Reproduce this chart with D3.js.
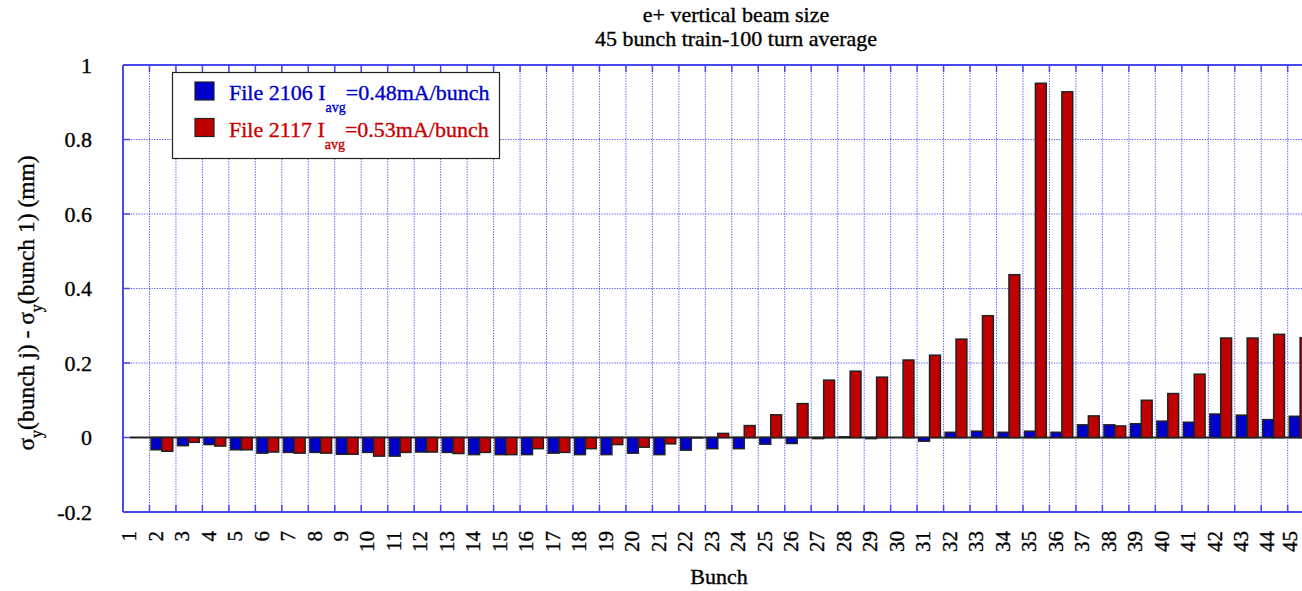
<!DOCTYPE html>
<html>
<head>
<meta charset="utf-8">
<script src="https://cdn.jsdelivr.net/npm/d3@7/dist/d3.min.js"></script>
<style>
  html, body { margin: 0; padding: 0; background: #fff; overflow: hidden; }
</style>
</head>
<body>
<svg id="chart" width="1302" height="591" font-family="'Liberation Serif', 'Times New Roman', Times, 'DejaVu Serif', serif"></svg>
<script>
const bunches = ["1","2","3","4","5","6","7","8","9","10","11","12","13","14","15","16","17","18","19","20","21","22","23","24","25","26","27","28","29","30","31","32","33","34","35","36","37","38","39","40","41","42","43","44","45"];
const file2106 = [0, -0.033, -0.022, -0.019, -0.033, -0.042, -0.040, -0.040, -0.045, -0.040,
  -0.050, -0.039, -0.040, -0.046, -0.046, -0.046, -0.042, -0.046, -0.046, -0.042,
  -0.046, -0.034, -0.030, -0.030, -0.018, -0.016, -0.003, 0.002, -0.003, 0.000,
  -0.010, 0.014, 0.017, 0.014, 0.017, 0.014, 0.034, 0.034, 0.037, 0.044,
  0.041, 0.063, 0.060, 0.048, 0.057];
const file2117 = [0, -0.037, -0.013, -0.023, -0.033, -0.039, -0.042, -0.042, -0.045, -0.050,
  -0.040, -0.039, -0.043, -0.040, -0.046, -0.030, -0.040, -0.030, -0.019, -0.026,
  -0.017, -0.001, 0.011, 0.032, 0.061, 0.091, 0.154, 0.178, 0.162, 0.208,
  0.221, 0.264, 0.327, 0.437, 0.951, 0.928, 0.058, 0.031, 0.100, 0.118,
  0.170, 0.267, 0.267, 0.277, 0.268];
const yTicks = [-0.2, 0, 0.2, 0.4, 0.6, 0.8, 1];
const yTickLabels = ["-0.2", "0", "0.2", "0.4", "0.6", "0.8", "1"];
const titleLines = ["e+ vertical beam size", "45 bunch train-100 turn average"];
const seriesNames = [
  {pre: "File 2106 I", sub: "avg", post: "=0.48mA/bunch"},
  {pre: "File 2117 I", sub: "avg", post: "=0.53mA/bunch"}
];

const BLUE = "#0000cc", RED = "#c00000", FRAME = "#4848ee", GRID = "#3a3aff";
const svg = d3.select("#chart");
const pL = 123, pT = 65, pB = 512, pR = 123 + 45 * 26.47;

const x = d3.scaleBand().domain(bunches).range([pL, pR]).padding(0);
const y = d3.scaleLinear().domain([-0.2, 1]).range([pB, pT]);
const bw = x.bandwidth();

// grid
const g = svg.append("g");
g.selectAll("line.vg").data(bunches.slice(1)).join("line")
  .attr("x1", d => x(d)).attr("x2", d => x(d))
  .attr("y1", pT).attr("y2", pB)
  .attr("stroke", GRID).attr("stroke-width", 1).attr("stroke-dasharray", "1.3,1.3").attr("opacity", 0.85);
g.selectAll("line.hg").data(yTicks.filter(v => v > 0 && v < 1)).join("line")
  .attr("x1", pL).attr("x2", 1302)
  .attr("y1", d => y(d)).attr("y2", d => y(d))
  .attr("stroke", GRID).attr("stroke-width", 1).attr("stroke-dasharray", "1.3,1.3").attr("opacity", 0.85);

// frame + ticks
svg.append("line").attr("x1", pL).attr("x2", 1302).attr("y1", pT).attr("y2", pT).attr("stroke", FRAME).attr("stroke-width", 2);
svg.append("line").attr("x1", pL).attr("x2", 1302).attr("y1", pB).attr("y2", pB).attr("stroke", FRAME).attr("stroke-width", 2);
svg.append("line").attr("x1", pL).attr("x2", pL).attr("y1", pT).attr("y2", pB).attr("stroke", FRAME).attr("stroke-width", 2);
svg.append("g").selectAll("line").data(bunches.slice(1)).join("line")
  .attr("x1", d => x(d)).attr("x2", d => x(d)).attr("y1", pB).attr("y2", pB - 7)
  .attr("stroke", FRAME).attr("stroke-width", 1.5);
svg.append("g").selectAll("line").data(bunches.slice(1)).join("line")
  .attr("x1", d => x(d)).attr("x2", d => x(d)).attr("y1", pT).attr("y2", pT + 7)
  .attr("stroke", FRAME).attr("stroke-width", 1.5);
svg.append("g").selectAll("line").data(yTicks).join("line")
  .attr("x1", pL).attr("x2", pL + 7).attr("y1", d => y(d)).attr("y2", d => y(d))
  .attr("stroke", FRAME).attr("stroke-width", 1.5);

// zero line
svg.append("line").attr("x1", pL + 7).attr("x2", 1302).attr("y1", y(0)).attr("y2", y(0))
  .attr("stroke", "#222").attr("stroke-width", 2);

// bars
const bars = svg.append("g");
function drawSeries(vals, color, off) {
  bars.append("g").selectAll("rect").data(bunches.map((b, i) => ({b, v: vals[i]})).filter(d => d.v !== 0)).join("rect")
    .attr("x", d => x(d.b) + bw * off)
    .attr("width", bw * 0.41)
    .attr("y", d => y(Math.max(0, d.v)))
    .attr("height", d => Math.abs(y(d.v) - y(0)))
    .attr("fill", color).attr("stroke", "#222").attr("stroke-width", 1.5);
}
drawSeries(file2106, BLUE, 0.06);
drawSeries(file2117, RED, 0.47);

const heavy = sel => sel.attr("stroke-width", 0.35).attr("paint-order", "stroke");

// y tick labels
svg.append("g").selectAll("text").data(yTicks).join("text")
  .attr("x", 92).attr("y", d => y(d)).attr("dy", "0.35em")
  .attr("text-anchor", "end").attr("font-size", 22).attr("fill", "#000").attr("stroke", "#000")
  .call(heavy)
  .text((d, i) => yTickLabels[i]);

// x tick labels
svg.append("g").selectAll("text").data(bunches).join("text")
  .attr("transform", d => `translate(${Math.min(x(d) + bw / 2, 1297)},531) rotate(-90)`)
  .attr("text-anchor", "end").attr("font-size", 21).attr("fill", "#000").attr("stroke", "#000")
  .call(heavy)
  .text(d => d);

// titles
svg.append("g").selectAll("text").data(titleLines).join("text")
  .attr("x", 736).attr("y", (d, i) => 22 + i * 24)
  .attr("text-anchor", "middle").attr("font-size", 22).attr("fill", "#000").attr("stroke", "#000")
  .call(heavy)
  .text(d => d);
svg.append("text").attr("x", 719).attr("y", 584).attr("text-anchor", "middle")
  .attr("font-size", 22).attr("fill", "#000").attr("stroke", "#000").call(heavy).text("Bunch");

// y axis title
const yt = svg.append("text").attr("transform", "translate(34,303) rotate(-90)")
  .attr("text-anchor", "middle").attr("font-size", 23.5).attr("fill", "#000").attr("stroke", "#000").call(heavy);
yt.append("tspan").text("σ");
yt.append("tspan").attr("dy", 8).attr("font-size", 16).text("y");
yt.append("tspan").attr("dy", -8).text("(bunch j) - σ");
yt.append("tspan").attr("dy", 8).attr("font-size", 16).text("y");
yt.append("tspan").attr("dy", -8).text("(bunch 1) (mm)");

// legend
const lg = svg.append("g");
lg.append("rect").attr("x", 172.5).attr("y", 72.5).attr("width", 327).attr("height", 86)
  .attr("fill", "#fff").attr("stroke", "#222").attr("stroke-width", 1.2);
[BLUE, RED].forEach((c, i) => {
  const by = 100 + i * 36.5;
  const tc = i === 0 ? BLUE : "#cc0000";
  lg.append("rect").attr("x", 195).attr("y", by - 18).attr("width", 19).attr("height", 18)
    .attr("fill", c).attr("stroke", "#222").attr("stroke-width", 1.2);
  const t = lg.append("text").attr("x", 229).attr("y", by).attr("font-size", 22)
    .attr("fill", tc).attr("stroke", tc).call(heavy);
  t.append("tspan").text(seriesNames[i].pre);
  t.append("tspan").attr("dy", 12).attr("font-size", 14).text(seriesNames[i].sub);
  t.append("tspan").attr("dy", -12).text(seriesNames[i].post);
});
</script>
</body>
</html>
